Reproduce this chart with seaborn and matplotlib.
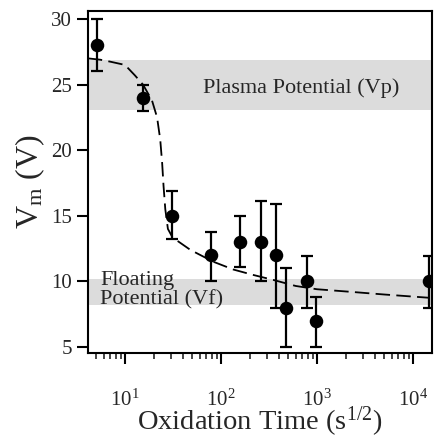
import matplotlib
matplotlib.use("Agg")
import matplotlib.pyplot as plt
import matplotlib.ticker as mticker
import numpy as np
import pandas as pd
import seaborn as sns

# Measured mean potential vs. oxidation time
oxidation_time = [5.1, 15.4, 31, 79, 157, 259, 372, 473, 785, 975, 14700]
v_mean = [28, 24, 15, 12, 13, 13, 12, 8, 10, 7, 10]
v_low = [26, 23, 13.2, 10, 11.1, 10, 8, 5, 8, 5, 8]
v_high = [30, 25, 16.9, 13.8, 15, 16.1, 15.9, 11, 11.9, 8.8, 11.9]

# Guide-to-the-eye curve
curve_time = [4.1, 5.5, 7.0, 10.0, 12.7, 15.4, 19.1, 21.6, 23.3, 24.4, 25.2,
              26.3, 28.0, 31.0, 35.0, 48, 83, 135, 214, 355, 600, 1000, 2270,
              5000, 14700]
curve_v = [27.0, 26.9, 26.75, 26.5, 25.7, 25.0, 23.8, 22.5, 20.8, 19.0, 17.3,
           15.5, 14.0, 13.4, 13.1, 12.4, 11.5, 10.9, 10.5, 10.1, 9.65, 9.4,
           9.2, 9.0, 8.75]

# Reference potential bands
plasma_band = (23.1, 26.9)
floating_band = (8.2, 10.2)

sns.set_style("ticks")
plt.rcParams["font.family"] = ["Liberation Serif", "DejaVu Serif"]
plt.rcParams["mathtext.fontset"] = "custom"
plt.rcParams["mathtext.rm"] = "Liberation Serif"
plt.rcParams["mathtext.it"] = "Liberation Serif:italic"
plt.rcParams["mathtext.bf"] = "Liberation Serif:bold"

fig = plt.figure(figsize=(4.35, 4.37), dpi=100)
ax = fig.add_axes([88 / 435, (437 - 353) / 437, (432 - 88) / 435, (353 - 11) / 437])
ax.set_xscale("log")

ax.axhspan(*plasma_band, color="#dcdcdc", lw=0, zorder=0)
ax.axhspan(*floating_band, color="#dcdcdc", lw=0, zorder=0)

curve = pd.DataFrame({"t": curve_time, "v": curve_v})
sns.lineplot(data=curve, x="t", y="v", ax=ax, color="black", lw=1.3,
             linestyle=(0, (8, 3.5)), zorder=2)

pts = pd.DataFrame({"t": oxidation_time, "v": v_mean})
err = np.array([np.array(v_mean) - np.array(v_low),
                np.array(v_high) - np.array(v_mean)])
ax.errorbar(oxidation_time, v_mean, yerr=err, fmt="none", ecolor="black",
            elinewidth=1.6, capsize=4.5, capthick=1.6, zorder=3)
sns.scatterplot(data=pts, x="t", y="v", ax=ax, color="black", s=95,
                edgecolor="black", linewidth=0, zorder=4)

ax.text(65, 24.75, "Plasma Potential (Vp)", fontsize=16, va="center", ha="left")
ax.text(5.5, 10.8, "Floating\nPotential (Vf)", fontsize=16, va="top",
        ha="left", linespacing=1.0)

ax.set_xlim(4.12, 15770)
ax.set_ylim(4.54, 30.61)
ax.set_yticks([5, 10, 15, 20, 25, 30])
ax.xaxis.set_major_locator(mticker.LogLocator(base=10, numticks=10))
ax.xaxis.set_minor_locator(mticker.LogLocator(base=10, subs=np.arange(2, 10), numticks=20))
ax.xaxis.set_major_formatter(mticker.LogFormatterMathtext())
ax.xaxis.set_minor_formatter(mticker.NullFormatter())

for s in ax.spines.values():
    s.set_linewidth(1.5)
    s.set_color("black")
ax.tick_params(axis="both", which="major", direction="out", length=8, width=1.5,
               labelsize=15, color="black")
ax.tick_params(axis="x", which="major", pad=18)
ax.tick_params(axis="x", which="minor", direction="out", length=4, width=1.2)

ax.set_xlabel("Oxidation Time (s$^{1/2}$)", fontsize=20.5)
ax.set_ylabel("V$_\\mathrm{m}$ (V)", fontsize=23)
ax.xaxis.set_label_coords(0.5, -0.15)
ax.yaxis.set_label_coords(-0.12, 0.5)

fig.savefig("out.png", dpi=100)
